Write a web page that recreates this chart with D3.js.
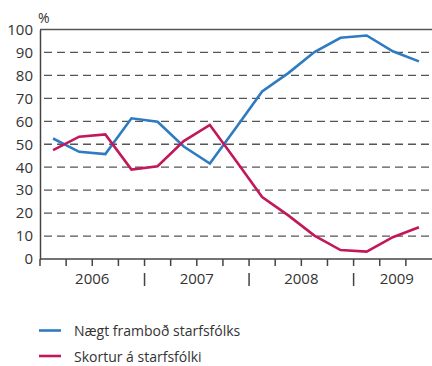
<!DOCTYPE html>
<html><head><meta charset="utf-8">
<script src="https://cdn.jsdelivr.net/npm/d3@7"></script>
<style>body{margin:0;background:#fff;} text{font-family:"Open Sans","Noto Sans",sans-serif;fill:#333;}</style>
</head><body><svg id="c" width="432" height="366"></svg>
<script>
const quarters = ["2006Q1","2006Q2","2006Q3","2006Q4","2007Q1","2007Q2","2007Q3","2007Q4","2008Q1","2008Q2","2008Q3","2008Q4","2009Q1","2009Q2","2009Q3"];
const years = ["2006","2007","2008","2009"];
const yTicks = [0,10,20,30,40,50,60,70,80,90,100];
const seriesNames = ["Nægt framboð starfsfólks","Skortur á starfsfólki"];
const blue = [52.5,46.7,45.7,61.3,59.8,49,41.6,57.2,73,81,90.2,96.4,97.4,90.5,86.1];
const red = [47.4,53.3,54.3,39,40.4,51.4,58.4,42.8,27,19,10.2,3.9,3.2,9.5,13.8];
const colors = ["#2f7bc2","#c2185b"];

const svg = d3.select("#c");
const L=40, R=432, T=29.5, B=259;
const x = d3.scaleBand().domain(quarters).range([L,R]);
const y = d3.scaleLinear().domain([0,100]).range([B,T]);

// gridlines
svg.append("g").selectAll("line").data(yTicks.filter(d=>d>0&&d<100)).join("line")
 .attr("x1",L).attr("x2",R).attr("y1",d=>y(d)).attr("y2",d=>y(d))
 .attr("stroke","#555").attr("stroke-width",1.3).attr("stroke-dasharray","8,5").attr("stroke-dashoffset",-4);
// top line
svg.append("line").attr("x1",L).attr("x2",R).attr("y1",y(100)).attr("y2",y(100)).attr("stroke","#555").attr("stroke-width",1.3);

// y axis
const ya = svg.append("g").attr("transform",`translate(${L},0)`).call(d3.axisLeft(y).tickValues(yTicks).tickSize(0).tickPadding(7));
ya.select(".domain").attr("stroke","#444").attr("stroke-width",1.5);
ya.selectAll("text").attr("font-size",15).style("font-family","'Open Sans','Noto Sans',sans-serif").attr("fill","#333");

// x axis
const xa = svg.append("g").attr("transform",`translate(0,${B})`);
xa.append("line").attr("x1",L).attr("x2",R).attr("stroke","#444").attr("stroke-width",1.5);
xa.selectAll("line.tk").data(quarters).join("line").attr("class","tk")
 .attr("x1",d=>x(d)).attr("x2",d=>x(d)).attr("y1",0).attr("y2",7).attr("stroke","#444").attr("stroke-width",1.5);
// year separators and labels
const yearStart = yr => x(yr+"Q1");
const yearEnd = yr => { const qs = quarters.filter(q=>q.startsWith(yr)); return x(qs[qs.length-1])+x.bandwidth(); };
xa.selectAll("line.sep").data(years.slice(1)).join("line").attr("class","sep")
 .attr("x1",d=>yearStart(d)).attr("x2",d=>yearStart(d)).attr("y1",14).attr("y2",27).attr("stroke","#444").attr("stroke-width",1.5);
xa.selectAll("text.yr").data(years).join("text").attr("class","yr")
 .attr("x",d=>{const s=yearStart(d), e=Math.min(yearEnd(d)+ (d==="2009"?x.bandwidth():0), R+8); return (s+e)/2;})
 .attr("y",25).attr("text-anchor","middle").attr("font-size",15).text(d=>d);

// % label
svg.append("text").attr("x",38).attr("y",23).attr("font-size",14).text("%");

// lines
const line = d3.line().x((d,i)=>x(quarters[i])+x.bandwidth()/2).y(d=>y(d));
[blue,red].forEach((s,i)=>{
 svg.append("path").datum(s).attr("d",line).attr("fill","none").attr("stroke",colors[i]).attr("stroke-width",2.6).attr("stroke-linejoin","miter");
});

// legend
const lg = svg.append("g");
seriesNames.forEach((n,i)=>{
 const yy = 330.5 + i*25.5;
 lg.append("line").attr("x1",39).attr("x2",61).attr("y1",yy).attr("y2",yy).attr("stroke",colors[i]).attr("stroke-width",2.6);
 lg.append("text").attr("x",74).attr("y",yy+2).attr("dominant-baseline","middle").attr("font-size",14).text(n);
});
</script></body></html>
